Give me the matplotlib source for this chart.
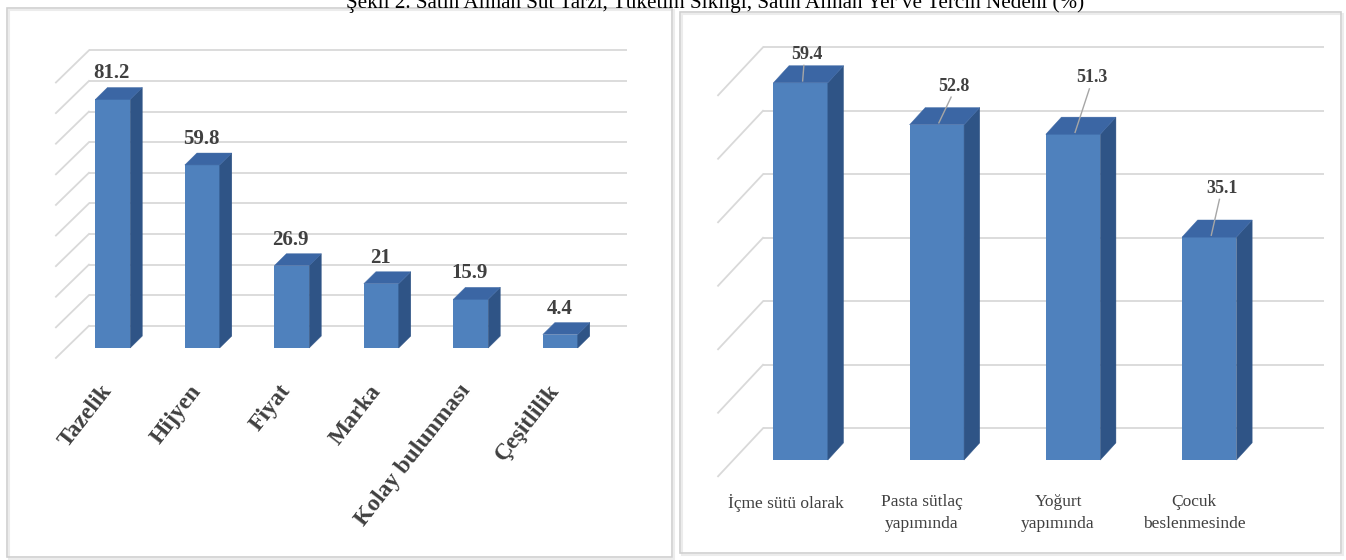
import matplotlib
matplotlib.use("Agg")
import matplotlib.pyplot as plt
from matplotlib.patches import Polygon, Rectangle

# ---------------- data ----------------
title = "Şekil 2. Satın Alınan Süt Tarzı, Tüketim Sıklığı, Satın Alınan Yer ve Tercih Nedeni (%)"

left_categories = ["Tazelik", "Hijyen", "Fiyat", "Marka", "Kolay bulunması", "Çeşitlilik"]
left_values = [81.2, 59.8, 26.9, 21, 15.9, 4.4]
left_value_labels = ["81.2", "59.8", "26.9", "21", "15.9", "4.4"]
left_gridlines = [0, 10, 20, 30, 40, 50, 60, 70, 80, 90]

right_categories = ["İçme sütü olarak", "Pasta sütlaç\nyapımında", "Yoğurt\nyapımında", "Çocuk\nbeslenmesinde"]
right_values = [59.4, 52.8, 51.3, 35.1]
right_value_labels = ["59.4", "52.8", "51.3", "35.1"]
right_gridlines = [0, 10, 20, 30, 40, 50, 60]

# ---------------- layout / style ----------------
W, H = 1346, 560
FRONT = "#4f81bd"
SIDE = "#2f5486"
TOP = "#3b66a4"
GRID = "#d9d9d9"
TXT = "#404040"
SERIF = "Liberation Serif"

# label offsets for the right chart (moved data labels with leader lines)
right_label_dx = [0.044, 0.125, 0.14, 0.095]
right_label_dy = [4.5, 6.1, 8.9, 7.7]

fig = plt.figure(figsize=(W / 100, H / 100), dpi=100)
fig.patch.set_facecolor("white")


def px_axes(x0, y0, x1, y1):
    return fig.add_axes([x0 / W, 1 - y1 / H, (x1 - x0) / W, (y1 - y0) / H])


def panel(x0, y0, x1, y1):
    # faint shadow then border
    fig.patches.append(Rectangle(((x0 + 2) / W, 1 - (y1 + 2) / H), (x1 - x0) / W, (y1 - y0) / H,
                                 transform=fig.transFigure, fill=False,
                                 ec="#ececec", lw=1.5, zorder=0))
    fig.patches.append(Rectangle((x0 / W, 1 - y1 / H), (x1 - x0) / W, (y1 - y0) / H,
                                 transform=fig.transFigure, fill=False,
                                 ec="#d0d0d0", lw=1.2, zorder=0))


def draw_3d_bars(ax, values, width, dx, dy):
    xs = list(range(len(values)))
    ax.bar(xs, values, width=width, color=FRONT, zorder=3, linewidth=0)
    for x, v in zip(xs, values):
        r = x + width / 2
        l = x - width / 2
        ax.add_patch(Polygon([(r, 0), (r + dx, dy), (r + dx, v + dy), (r, v)],
                             closed=True, fc=SIDE, ec=SIDE, lw=0.3, zorder=3))
        ax.add_patch(Polygon([(l, v), (r, v), (r + dx, v + dy), (l + dx, v + dy)],
                             closed=True, fc=TOP, ec=TOP, lw=0.3, zorder=3))


def draw_walls(ax, grid, depth_off, x_back, x_front, diag_dy, x_right):
    for g in grid:
        yb = g + depth_off
        ax.plot([x_back, x_right], [yb, yb], color=GRID, lw=1.3, zorder=1,
                solid_capstyle="butt")
        ax.plot([x_front, x_back], [yb - diag_dy, yb], color=GRID, lw=1.3, zorder=1)


# ---------------- panels & title ----------------
panel(7, 8, 672, 557)
panel(680, 12, 1341, 553)
fig.text(715 / W, 1 - 8 / H, title, ha="center", va="baseline",
         fontsize=15.2, family=SERIF, color="black")

# ---------------- left chart ----------------
axl = px_axes(40, 30, 640, 380)
axl.set_xlim(-0.813, 5.891)
axl.set_ylim(-10.46, 103.9)
axl.axis("off")

draw_walls(axl, left_gridlines, 7.25, -0.266, -0.635, 10.5, 5.745)
draw_3d_bars(axl, left_values, 0.39, 0.135, 3.9)

for i, (v, lab) in enumerate(zip(left_values, left_value_labels)):
    axl.text(i - 0.01, v + 8.5, lab, ha="center", va="center", fontsize=15,
             fontweight="bold", family=SERIF, color=TXT, zorder=5)

for i, cat in enumerate(left_categories):
    axl.text(i - 0.05, -12.8, cat, rotation=52, rotation_mode="anchor",
             ha="right", va="center", fontsize=17, fontweight="bold",
             family=SERIF, color=TXT, clip_on=False)

# ---------------- right chart ----------------
axr = px_axes(690, 30, 1340, 490)
axr.set_xlim(-0.812, 3.960)
axr.set_ylim(-4.72, 67.72)
axr.axis("off")

draw_walls(axr, right_gridlines, 5.0, -0.276, -0.606, 7.56, 3.84)
draw_3d_bars(axr, right_values, 0.40, 0.115, 2.7)

for i, (v, lab) in enumerate(zip(right_values, right_value_labels)):
    lx = i + right_label_dx[i]
    ly = v + right_label_dy[i]
    axr.text(lx, ly, lab, ha="center", va="center", fontsize=13,
             fontweight="bold", family=SERIF, color=TXT, zorder=5)
    axr.plot([lx - 0.02, i + 0.015], [ly - 1.75, v + 0.3], color="#a6a6a6",
             lw=1.0, zorder=4)

for i, cat in enumerate(right_categories):
    axr.text(i - 0.11, -5.35, cat, ha="center", va="top", fontsize=12.5,
             family=SERIF, color=TXT, linespacing=1.5, clip_on=False)

fig.savefig("out.png", dpi=100, facecolor="white")
